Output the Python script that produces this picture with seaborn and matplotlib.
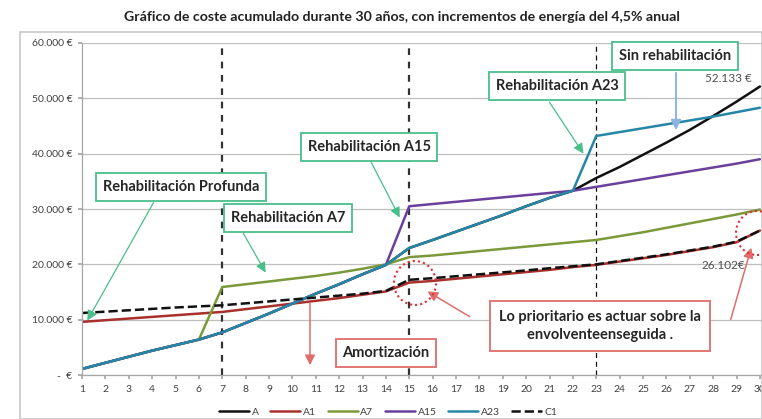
import matplotlib
matplotlib.use("Agg")
import matplotlib.pyplot as plt
import seaborn as sns
import pandas as pd
from matplotlib.patches import Ellipse, Rectangle

years = list(range(1, 31))
serie_A = [1100, 2200, 3300, 4400, 5400, 6400, 7700, 9400, 11100, 12900, 14700, 16400, 18200, 19900,
           22950, 24400, 25900, 27400, 28900, 30500, 32000, 33300,
           35600, 37600, 39800, 42000, 44300, 46800, 49400, 52133]
serie_A1 = [9600, 9900, 10200, 10500, 10800, 11100, 11400, 11900, 12400, 12900, 13400, 13900, 14500, 15100,
            16700, 17000, 17400, 17800, 18200, 18600, 19000, 19500, 19900, 20500, 21100, 21700, 22400, 23100, 24000, 26102]
serie_A7 = [1100, 2200, 3300, 4400, 5400, 6400, 15900, 16400, 16900, 17400, 17900, 18500, 19200, 20000,
            21300, 21600, 22000, 22400, 22800, 23200, 23600, 24000, 24400, 25100, 25800, 26600, 27400, 28200, 29000, 29900]
serie_A15 = [1100, 2200, 3300, 4400, 5400, 6400, 7700, 9400, 11100, 12900, 14700, 16400, 18200, 19900,
             30500, 30900, 31300, 31700, 32100, 32500, 32900, 33300, 34000, 34700, 35400, 36100, 36800, 37500, 38200, 39000]
serie_A23 = [1100, 2200, 3300, 4400, 5400, 6400, 7700, 9400, 11100, 12900, 14700, 16400, 18200, 19900,
             22950, 24400, 25900, 27400, 28900, 30500, 32000, 33300,
             43200, 43900, 44600, 45300, 46000, 46700, 47500, 48300]
serie_C1 = [11200, 11450, 11700, 11950, 12200, 12400, 12600, 12950, 13300, 13650, 14000, 14350, 14700, 15200,
            17200, 17500, 17850, 18200, 18550, 18900, 19300, 19650, 20000, 20600, 21200, 21800, 22500, 23200, 24100, 26102]
y_ticks = [0, 10000, 20000, 30000, 40000, 50000, 60000]
y_labels = ["-  €", "10.000 €", "20.000 €", "30.000 €", "40.000 €", "50.000 €", "60.000 €"]
title = "Gráfico de coste acumulado durante 30 años, con incrementos de energía del 4,5% anual"

series = [
    ("A", serie_A, "#111111", "-"),
    ("A1", serie_A1, "#A8302D", "-"),
    ("A7", serie_A7, "#7A9A3A", "-"),
    ("A15", serie_A15, "#6B3F9C", "-"),
    ("A23", serie_A23, "#2686A6", "-"),
    ("C1", serie_C1, "#111111", "--"),
]

sns.set_theme(style="white")
plt.rcParams["font.family"] = ["Lato", "DejaVu Sans"]

W, H = 762, 419
fig = plt.figure(figsize=(W / 100, H / 100), dpi=100)

def fx(x):
    return x / W

def fy(y):
    return 1 - y / H

ax = fig.add_axes([fx(82), fy(375), fx(762) - fx(82), fy(43) - fy(375)])

for name, vals, col, ls in series:
    df = pd.DataFrame({"year": years, "value": vals})
    sns.lineplot(data=df, x="year", y="value", color=col, linewidth=1.8, ax=ax, label=name,
                 linestyle=ls)

ax.set_xlim(1, 30.09)
ax.set_ylim(0, 60000)
ax.set_xticks(years)
ax.set_xticklabels([str(y) for y in years], fontsize=7.5, color="#404040")
ax.set_yticks(y_ticks)
ax.set_yticklabels(y_labels, fontsize=7.5, color="#404040")
ax.set_xlabel("")
ax.set_ylabel("")
ax.grid(axis="y", color="#BFBFBF", linewidth=0.9)
ax.grid(axis="x", visible=False)
for s in ["top", "right"]:
    ax.spines[s].set_visible(False)
for s in ["left", "bottom"]:
    ax.spines[s].set_color("#A6A6A6")
    ax.spines[s].set_linewidth(0.9)
ax.tick_params(axis="both", which="both", length=3, color="#A6A6A6", direction="out",
               bottom=True, left=True, pad=4)
ax.set_axisbelow(True)

ax.axvline(7, color="#333333", linestyle=(0, (3, 3)), linewidth=1.6, zorder=1)
ax.axvline(15, color="#333333", linestyle=(0, (3, 3)), linewidth=1.6, zorder=1)
ax.axvline(23, color="#111111", linestyle=(0, (4, 3)), linewidth=0.9, zorder=1)

leg = ax.legend(loc="upper center", bbox_to_anchor=(0.45, -0.07), ncol=6, frameon=False,
                fontsize=7.5, handlelength=2.9, handletextpad=0.25, columnspacing=1.1)
for t in leg.get_texts():
    t.set_color("#404040")

fig.text(fx(402), fy(17), title, ha="center", va="center", fontsize=10.2,
         fontweight="bold", color="#222222")

# outer frame
fig.patches.append(Rectangle((fx(20), 0), 1 - fx(20), fy(32), transform=fig.transFigure,
                             fill=False, ec="#C8C8C8", lw=1.2))

green = "#49BE8B"
red = "#E06C6C"

def box(xc, yc, text, ec, pad=0.45):
    fig.text(fx(xc), fy(yc), text, ha="center", va="center", fontsize=10.5, fontweight="bold",
             color="#262626", linespacing=1.4,
             bbox=dict(boxstyle="square,pad=%s" % pad, fc="white", ec=ec, lw=1.3))

def arrow(x0, y0, x1, y1, col, lw=0.9):
    fig.add_artist(matplotlib.patches.FancyArrowPatch(
        (fx(x0), fy(y0)), (fx(x1), fy(y1)), transform=fig.transFigure,
        arrowstyle="-|>,head_length=4,head_width=2", color=col, lw=lw, mutation_scale=1.5))

arrow(155, 200, 86, 323, green)
box(181, 187, "Rehabilitación Profunda", green)
arrow(242, 231, 267, 275, green)
box(288, 218, "Rehabilitación A7", green)
arrow(370, 160, 401, 220, green)
box(369, 147, "Rehabilitación A15", green)
arrow(548, 100, 585, 156, green)
box(557, 86, "Rehabilitación A23", green)
arrow(676, 70, 676, 133, "#8DB3E2", lw=1.4)
box(675, 56, "Sin rehabilitación", green)

fig.text(fx(752), fy(78), "52.133 €", ha="right", va="center", fontsize=8.5, color="#505050")
fig.text(fx(745), fy(265), "26.102€", ha="right", va="center", fontsize=8.5, color="#505050")

arrow(310, 300, 310, 368, red, lw=1.1)
box(386, 353, "Amortización", red)

arrow(472, 318, 425, 290, red, lw=1.1)
arrow(730, 322, 752, 245, red, lw=1.1)
box(600, 326, "Lo prioritario es actuar sobre la\nenvolventeenseguida .", red, pad=0.6)

for (cx, cy) in [(415, 283), (757, 233)]:
    fig.patches.append(Ellipse((fx(cx), fy(cy)), fx(42), 44 / H, transform=fig.transFigure,
                               fill=False, ec="#E03030", lw=1.5, linestyle=(0, (1, 1.5))))

fig.savefig("out.png", dpi=100)
